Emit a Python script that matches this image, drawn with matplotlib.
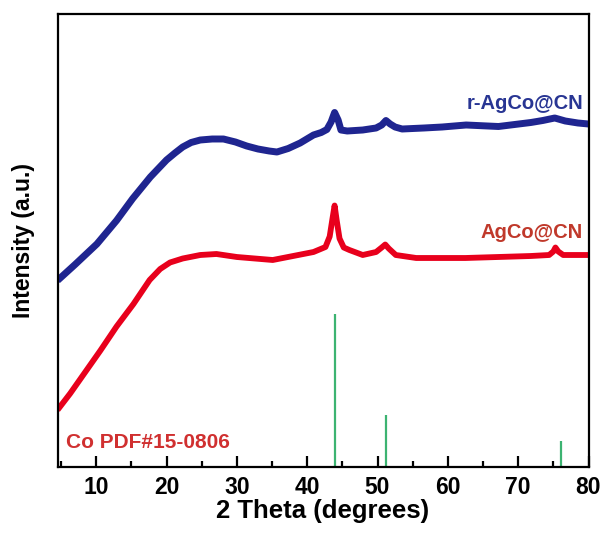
import matplotlib
matplotlib.use("Agg")
import matplotlib.pyplot as plt
from matplotlib.ticker import MultipleLocator

plt.rcParams['font.family'] = ['Liberation Sans', 'DejaVu Sans']
plt.rcParams['font.weight'] = 'bold'

# r-AgCo@CN pattern (2theta, intensity a.u.)
blue_x = [4.5, 7.0, 10.1, 12.9, 15.2, 17.7, 20.0, 21.2, 22.3, 23.5, 24.8, 26.5, 28.1, 29.8,
          31.4, 33.0, 34.6, 35.7, 37.3, 39.0, 40.9, 42.0, 42.8, 43.4, 43.9, 44.4, 44.8,
          45.7, 47.9, 49.8, 50.6, 51.2, 51.8, 52.5, 53.5, 56.6, 59.2, 62.6, 67.2, 71.8,
          73.5, 75.2, 76.7, 78.5, 80.0]
blue_y = [186, 202, 222.5, 246, 268, 289.5, 306.5, 313.5, 319.5, 324, 326.5, 327.5, 327.5,
          324.5, 320.5, 317.5, 315.5, 314.5, 318, 323.5, 331.5, 334, 337, 344.5, 354, 346.5,
          336.5, 335.5, 336.5, 338.5, 341.5, 346, 342.5, 339.5, 337.5, 338.5, 339.5, 341.5,
          340, 344, 346, 348.5, 345.5, 343.5, 342.5]

# AgCo@CN pattern
red_x = [4.5, 6.3, 8.2, 10.6, 12.9, 15.3, 17.6, 19.1, 20.5, 22.3, 24.8, 27.1, 30.0,
         35.1, 40.9, 42.6, 43.2, 43.6, 43.9, 44.2, 44.6, 45.2, 46.0, 47.9, 49.8, 50.6,
         51.1, 51.6, 52.6, 55.5, 62.5, 71.8, 74.4, 75.0, 75.3, 75.7, 76.4, 80.0]
red_y = [56.5, 73, 92, 116, 140, 162.5, 186.5, 197.5, 204, 208, 211.5, 212.5, 209.5,
         206.5, 214.5, 219.5, 230, 248, 261, 246, 228, 219, 216.5, 211.5, 214.5, 219,
         222, 218, 211.5, 208.5, 208.5, 210.5, 211.5, 215, 219, 215, 211.5, 211.5]

# Co PDF#15-0806 reference lines
ref_x = [43.9, 51.2, 76.1]
ref_h = [153, 51.5, 26]

labels = ['r-AgCo@CN', 'AgCo@CN', 'Co PDF#15-0806']
xticks = [10, 20, 30, 40, 50, 60, 70, 80]

fig = plt.figure(figsize=(6.05, 5.33), dpi=100)
ax = fig.add_axes([57.5 / 605, (533 - 466.5) / 533, 531 / 605, 453 / 533])

ax.plot(blue_x, blue_y, color='#1f2590', lw=5.0, solid_joinstyle='round', solid_capstyle='butt')
ax.plot(red_x, red_y, color='#e8001c', lw=4.2, solid_joinstyle='round', solid_capstyle='butt')
ax.vlines(ref_x, 0, ref_h, color='#3cb371', lw=1.6)

ax.set_xlim(4.5, 80)
ax.set_ylim(0, 453)
ax.set_xticks(xticks)
ax.set_xticklabels([str(t) for t in xticks])
ax.xaxis.set_minor_locator(MultipleLocator(5))
ax.set_yticks([])
ax.tick_params(axis='x', which='major', direction='in', length=8, width=1.6,
               labelsize=16.5, pad=7)
ax.tick_params(axis='x', which='minor', direction='in', length=4, width=1.6)
for lab in ax.get_xticklabels():
    lab.set_fontweight('bold')
for s in ax.spines.values():
    s.set_linewidth(1.6)

ax.set_xlabel('2 Theta (degrees)', fontsize=18.5, fontweight='bold', labelpad=0)
ax.set_ylabel('Intensity (a.u.)', fontsize=16.5, fontweight='bold', labelpad=16)

ax.text(79.3, 357.5, labels[0], color='#283593', fontsize=14.5, fontweight='bold',
        ha='right', va='baseline')
ax.text(79.2, 229, labels[1], color='#c0392b', fontsize=14.5, fontweight='bold',
        ha='right', va='baseline')
ax.text(5.7, 18.5, labels[2], color='#d03030', fontsize=15, fontweight='bold',
        ha='left', va='baseline')

fig.savefig('out.png', dpi=100)
